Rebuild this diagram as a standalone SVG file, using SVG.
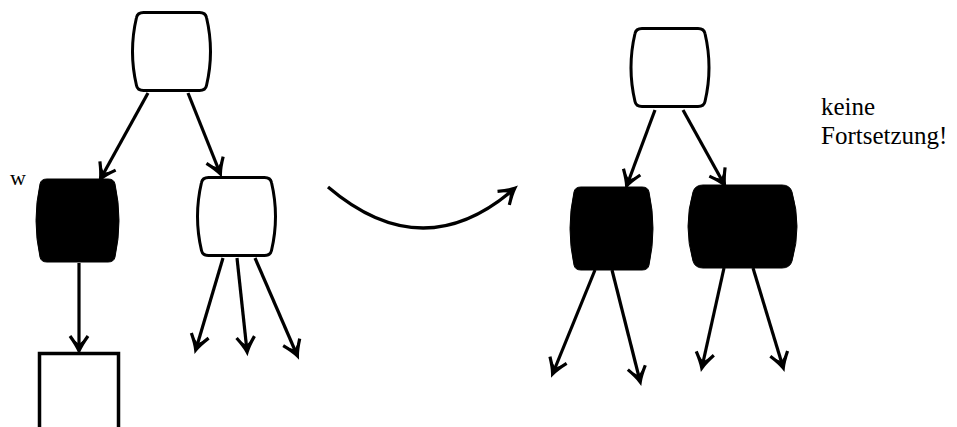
<svg xmlns="http://www.w3.org/2000/svg" width="957" height="427" viewBox="0 0 957 427">
<style>
.white{fill:#fff;stroke:#000;stroke-width:3}
.black{fill:#000;stroke:#000;stroke-width:1}
.edge{fill:none;stroke:#000;stroke-width:3.2}
text{font-family:Liberation Serif, Times New Roman, serif;fill:#000}
</style>
<defs>
<marker id="ah" markerUnits="userSpaceOnUse" viewBox="-16 -12 18 24" refX="0" refY="0" markerWidth="18" markerHeight="24" orient="auto" overflow="visible">
<path d="M -14,-9 Q -5,-2.5 1,0 Q -5,2.5 -14,9" fill="none" stroke="#000" stroke-width="3.2"/>
<path d="M 1.5,0 L -11,-6 L -6,0 L -11,6 Z" fill="#000"/>
</marker>
<path id="wn" d="M -28,-39 H 28 Q 34,-39 35,-34 Q 43,0 35,34 Q 34,39 28,39 H -28 Q -34,39 -35,34 Q -43,0 -35,-34 Q -34,-39 -28,-39 Z"/>
<path id="bn" d="M -30.5,-41.5 H 30.5 Q 36.5,-41.5 37.5,-36.5 Q 45.5,0 37.5,36.5 Q 36.5,41.5 30.5,41.5 H -30.5 Q -36.5,41.5 -37.5,36.5 Q -45.5,0 -37.5,-36.5 Q -36.5,-41.5 -30.5,-41.5 Z"/>
</defs>
<rect width="957" height="427" fill="#fff"/>

<g id="connectors">
<path class="edge" d="M148,93 L101,178" marker-end="url(#ah)"/>
<path class="edge" d="M188,93 L220,173" marker-end="url(#ah)"/>
<path class="edge" d="M79,263 L79,350" marker-end="url(#ah)"/>
<path class="edge" d="M223,258 L196,349" marker-end="url(#ah)"/>
<path class="edge" d="M237,258 L247,351" marker-end="url(#ah)"/>
<path class="edge" d="M255,258 L297,355" marker-end="url(#ah)"/>
<path class="edge" d="M328,187 Q423,268 514,189" marker-end="url(#ah)"/>
<path class="edge" d="M655,110 L627,185" marker-end="url(#ah)"/>
<path class="edge" d="M683,110 L724,184" marker-end="url(#ah)"/>
<path class="edge" d="M595,270 L553,373" marker-end="url(#ah)"/>
<path class="edge" d="M612,270 L640,381" marker-end="url(#ah)"/>
<path class="edge" d="M724,268 L702,367" marker-end="url(#ah)"/>
<path class="edge" d="M753,268 L783,367" marker-end="url(#ah)"/>
</g>

<g id="root-left" transform="translate(171.5,51.5)"><use href="#wn" class="white"/></g>
<g id="w-node" transform="translate(77.5,220.5)"><use href="#bn" class="black"/></g>
<g id="w-label"><text x="10" y="185" font-size="22">w</text></g>
<g id="right-child-left" transform="translate(236.5,216.5)"><use href="#wn" class="white"/></g>
<g id="leaf-square"><rect x="39.5" y="353.5" width="79" height="90" fill="#fff" stroke="#000" stroke-width="3.5"/></g>

<g id="root-right" transform="translate(670,67.5)"><use href="#wn" class="white"/></g>
<g id="black-left" transform="translate(611.5,228.5)"><use href="#bn" class="black"/></g>
<g id="black-right" transform="translate(742.5,226.5)"><path class="black" d="M -39.5,-41.5 H 39.5 Q 47.5,-41.5 49.5,-34.5 Q 59.5,0 49.5,34.5 Q 47.5,41.5 39.5,41.5 H -39.5 Q -47.5,41.5 -49.5,34.5 Q -59.5,0 -49.5,-34.5 Q -47.5,-41.5 -39.5,-41.5 Z"/></g>

<g id="note">
<text x="821" y="115" font-size="25">keine</text>
<text x="821" y="144" font-size="25">Fortsetzung!</text>
</g>
</svg>
